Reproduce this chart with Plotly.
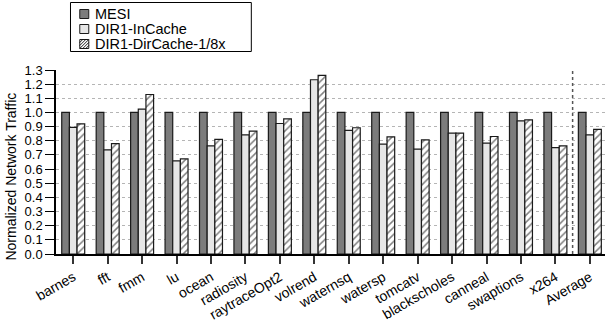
import plotly.graph_objects as go

benchmarks = ["barnes", "fft", "fmm", "lu", "ocean", "radiosity", "raytraceOpt2",
              "volrend", "waternsq", "watersp", "tomcatv", "blackscholes",
              "canneal", "swaptions", "x264", "Average"]

mesi = [1.0] * 16
dir1_incache = [0.894, 0.736, 1.024, 0.658, 0.764, 0.842, 0.922, 1.231, 0.873,
                0.776, 0.741, 0.854, 0.783, 0.941, 0.752, 0.842]
dir1_dircache = [0.920, 0.780, 1.127, 0.672, 0.810, 0.868, 0.955, 1.262, 0.892,
                 0.828, 0.807, 0.854, 0.830, 0.948, 0.764, 0.880]

series_names = ["MESI", "DIR1-InCache", "DIR1-DirCache-1/8x"]
y_ticks = [round(i * 0.1, 1) for i in range(14)]

FONT = "Liberation Sans, Arial, Helvetica, sans-serif"
W, H = 605, 325
L, R, T, B = 55.5, 0, 70, 71
MESI_GRAY = "#7c7c7c"
INCACHE_GRAY = "#e6e6e6"
EDGE = "#1a1a1a"


def px(x):
    """Pixel column -> paper x."""
    return (x - L) / (W - L - R)


def py(y):
    """Pixel row (from top) -> paper y."""
    return (H - B - y) / (H - T - B)


outline = dict(color=EDGE, width=1.2)

fig = go.Figure()
fig.add_trace(go.Bar(name=series_names[0], x=benchmarks, y=mesi,
                     marker=dict(color=MESI_GRAY, line=outline)))
fig.add_trace(go.Bar(name=series_names[1], x=benchmarks, y=dir1_incache,
                     marker=dict(color=INCACHE_GRAY, line=outline)))
fig.add_trace(go.Bar(name=series_names[2], x=benchmarks, y=dir1_dircache,
                     marker=dict(color="white", line=outline,
                                 pattern=dict(shape="/", size=5, solidity=0.3,
                                              fgcolor="black", bgcolor="white"))))

# separator between the benchmarks and the average
fig.add_shape(type="line", xref="x", yref="y", x0=14.5, x1=14.5, y0=0, y1=1.3,
              line=dict(color="#555555", width=1.5, dash="dot"))

# compact boxed legend
box = dict(x0=70, x1=251, y0=2.5, y1=51.5)
fig.add_shape(type="rect", xref="paper", yref="paper",
              x0=px(box["x0"]), x1=px(box["x1"]), y0=py(box["y1"]), y1=py(box["y0"]),
              line=dict(color="black", width=1), fillcolor="white", layer="above")

row_centers = [14, 29, 44]
sq_x0, sq = 79.3, 9
sq_fills = [MESI_GRAY, INCACHE_GRAY, "white"]
for name, cy, fill in zip(series_names, row_centers, sq_fills):
    top, bot = cy - sq / 2, cy + sq / 2
    fig.add_shape(type="rect", xref="paper", yref="paper",
                  x0=px(sq_x0), x1=px(sq_x0 + sq), y0=py(bot), y1=py(top),
                  line=dict(color=EDGE, width=1), fillcolor=fill, layer="above")
    fig.add_annotation(text=name, xref="paper", yref="paper",
                       x=px(93), y=py(cy), xanchor="left", yanchor="middle",
                       showarrow=False, font=dict(family=FONT, size=14.5, color="black"))

# diagonal hatch inside the third legend square
cy = row_centers[2]
ax, bu = sq_x0, cy + sq / 2  # bottom-left corner (pixels)
step = 3.0
k = -sq + step
while k < sq:
    x_start, x_end = max(0.0, -k), min(sq, sq - k)
    fig.add_shape(type="line", xref="paper", yref="paper",
                  x0=px(ax + x_start), y0=py(bu - (x_start + k)),
                  x1=px(ax + x_end), y1=py(bu - (x_end + k)),
                  line=dict(color="black", width=0.9), layer="above")
    k += step

# y-axis title, placed a little below the axis midpoint
fig.add_annotation(text="Normalized Network Traffic", textangle=-90,
                   xref="paper", yref="paper", x=px(10), y=py(177),
                   xanchor="center", yanchor="middle",
                   showarrow=False, font=dict(family=FONT, size=14, color="black"))

fig.update_layout(
    width=W, height=H,
    margin=dict(l=L, r=R, t=T, b=B, pad=0),
    paper_bgcolor="white", plot_bgcolor="white",
    barmode="group", bargap=0.333, bargroupgap=0,
    font=dict(family=FONT, size=14, color="black"),
    showlegend=False,
)
fig.update_xaxes(range=[-0.5, 15.44], tickangle=-30, showline=True,
                 linecolor="black", linewidth=1.5, ticks="outside", ticklen=8,
                 tickcolor="#333333", tickwidth=1.5, showgrid=False,
                 tickfont=dict(family=FONT, size=14))
fig.update_yaxes(range=[0, 1.3], tickvals=y_ticks,
                 ticktext=[f"{v:.1f}" for v in y_ticks],
                 showline=True, linecolor="black", linewidth=1.5,
                 ticks="outside", ticklen=9, tickcolor="black",
                 showgrid=True, gridcolor="#b5b5b5", griddash="dot", gridwidth=1,
                 zeroline=False, tickfont=dict(family=FONT, size=13))

fig.write_html("out.html")
